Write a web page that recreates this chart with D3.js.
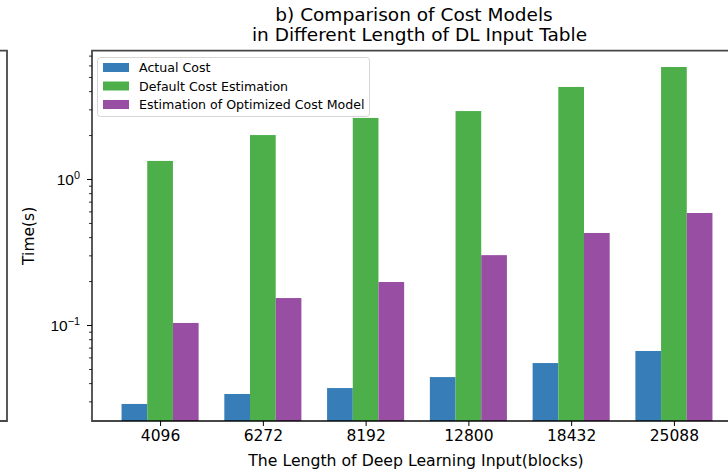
<!DOCTYPE html>
<html>
<head>
<meta charset="utf-8">
<script src="https://cdn.jsdelivr.net/npm/d3@7"></script>
<style>
  html, body { margin: 0; padding: 0; background: #fff; }
  svg { display: block; font-family: "DejaVu Sans", sans-serif; }
</style>
</head>
<body>
<svg id="chart" width="728" height="472"></svg>
<script>
// Input lengths (blocks) on the x axis
const categories = ["4096", "6272", "8192", "12800", "18432", "25088"];
// Measured and estimated times in seconds
const actualCost = [0.0288, 0.0337, 0.0370, 0.0440, 0.0549, 0.0664];
const defaultEstimation = [1.33, 2.00, 2.62, 2.92, 4.27, 5.85];
const optimizedEstimation = [0.1033, 0.153, 0.197, 0.301, 0.427, 0.585];
const seriesNames = ["Actual Cost", "Default Cost Estimation", "Estimation of Optimized Cost Model"];
const majorTicks = [0.1, 1];
const majorTickLabels = [["10", "\u22121"], ["10", "0"]];

const colors = ["#377eb8", "#4daf4a", "#984ea3"];
const series = [actualCost, defaultEstimation, optimizedEstimation];

const svg = d3.select("#chart");
const plotL = 92, plotR = 742, plotT = 50.7, plotB = 421;
const barW = 0.25;

const x = d3.scaleLinear().domain([-0.6625, categories.length - 1 + 0.6625]).range([plotL, plotR]);
const y = d3.scaleLog().domain([0.02201, 7.565]).range([plotB, plotT]);

// neighbouring panel frame edge on the far left
svg.append("path")
  .attr("d", `M0,${plotT}H7V${plotB}H0`)
  .attr("fill", "none").attr("stroke", "#000").attr("stroke-opacity", 0.72).attr("stroke-width", 1.8);

// bars
series.forEach((vals, si) => {
  svg.append("g").selectAll("rect").data(vals).join("rect")
    .attr("x", (d, i) => x(i + (si - 1) * barW - barW / 2))
    .attr("width", x(barW) - x(0))
    .attr("y", d => y(d))
    .attr("height", d => plotB - y(d))
    .attr("fill", colors[si]);
});

// x axis
const xAxis = d3.axisBottom(x)
  .tickValues(d3.range(categories.length))
  .tickFormat(i => categories[i])
  .tickSize(5).tickPadding(4);
const gx = svg.append("g").attr("transform", `translate(0,${plotB})`).call(xAxis);
gx.select(".domain").remove();
gx.selectAll(".tick line").attr("stroke", "#000").attr("stroke-width", 1);
gx.selectAll(".tick text").attr("font-size", 15.5).attr("fill", "#000")
  .attr("font-family", "DejaVu Sans");

// y axis: minor ticks
const minorVals = [];
for (let e = -2; e <= 0; e++) {
  for (let m = 2; m <= 9; m++) {
    const v = m * Math.pow(10, e);
    if (v >= y.domain()[0] && v <= y.domain()[1]) minorVals.push(v);
  }
}
const gyMinor = svg.append("g").attr("transform", `translate(${plotL},0)`)
  .call(d3.axisLeft(y).tickValues(minorVals).tickSize(3).tickFormat(""));
gyMinor.select(".domain").remove();
gyMinor.selectAll(".tick line").attr("stroke", "#000").attr("stroke-width", 0.8);

// y axis: major ticks with power-of-ten labels
const gy = svg.append("g").attr("transform", `translate(${plotL},0)`)
  .call(d3.axisLeft(y).tickValues(majorTicks).tickSize(5).tickFormat(""));
gy.select(".domain").remove();
gy.selectAll(".tick line").attr("stroke", "#000").attr("stroke-width", 1);
gy.selectAll(".tick").each(function(d, i) {
  const lab = majorTickLabels[i];
  const t = d3.select(this).append("text")
    .attr("x", -12).attr("dy", "0.36em")
    .attr("text-anchor", "end").attr("font-size", 15.5).attr("fill", "#000");
  t.append("tspan").text(lab[0]);
  t.append("tspan").attr("font-size", 10.8).attr("dy", "-0.55em").text(lab[1]);
});

// spines
svg.append("path")
  .attr("d", `M${plotR},${plotT}H${plotL}V${plotB}H${plotR}`)
  .attr("fill", "none").attr("stroke", "#000").attr("stroke-opacity", 0.72)
  .attr("stroke-width", 1.8);

// axis titles
svg.append("text").attr("x", 416).attr("y", 465.5)
  .attr("text-anchor", "middle").attr("font-size", 15.7).attr("fill", "#000")
  .text("The Length of Deep Learning Input(blocks)");
svg.append("text").attr("transform", `translate(33.5,${(plotT + plotB) / 2}) rotate(-90)`)
  .attr("text-anchor", "middle").attr("font-size", 15.5).attr("fill", "#000")
  .text("Time(s)");

// chart title
const title = svg.append("text").attr("text-anchor", "middle").attr("font-size", 18.5).attr("fill", "#000");
title.append("tspan").attr("x", 414).attr("y", 20.7).text("b) Comparison of Cost Models");
title.append("tspan").attr("x", 419.5).attr("y", 41).text("in Different Length of DL Input Table");

// legend
const lg = svg.append("g");
lg.append("rect").attr("x", 97.5).attr("y", 57.5).attr("width", 272).attr("height", 59)
  .attr("rx", 3).attr("fill", "#fff").attr("fill-opacity", 0.8)
  .attr("stroke", "#d6d6d6").attr("stroke-width", 1);
seriesNames.forEach((name, i) => {
  const cy = 67.5 + i * 18.5;
  lg.append("rect").attr("x", 103).attr("y", cy - 4.5).attr("width", 26).attr("height", 9)
    .attr("fill", colors[i]);
  lg.append("text").attr("x", 139).attr("y", cy).attr("dy", "0.36em")
    .attr("font-size", 12.6).attr("fill", "#000").text(name);
});
</script>
</body>
</html>
